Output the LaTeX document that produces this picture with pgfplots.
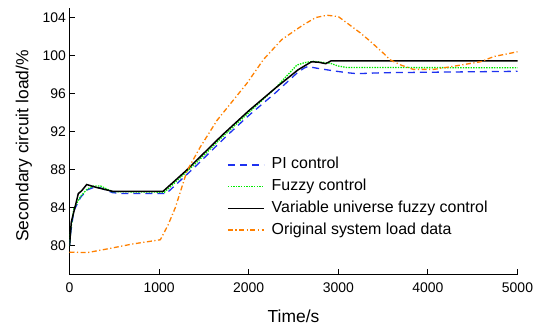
\documentclass[border=0pt]{standalone}
\usepackage{fontspec}
\setmainfont{Liberation Sans}
\usepackage{pgfplots}
\pgfplotsset{compat=1.18}
\definecolor{piblue}{RGB}{30,50,240}
\definecolor{fzgreen}{RGB}{0,235,0}
\definecolor{orig}{RGB}{255,128,0}
\begin{document}
\begin{tikzpicture}
\path[use as bounding box] (-69.5bp,-51.5bp) rectangle (471.5bp,274.5bp);
\begin{axis}[
  at={(0,0)}, anchor=south west,
  scale only axis, width=448bp, height=266.5bp,
  xmin=0, xmax=5000, ymin=77, ymax=105,
  axis x line*=bottom, axis y line*=left,
  axis line style={line width=0.9bp, -},
  xtick={0,1000,...,5000}, ytick={80,84,...,104},
  tick align=inside, major tick length=6bp,
  tick style={line width=0.9bp, black},
  scaled x ticks=false,
  xticklabel style={/pgf/number format/1000 sep={}, yshift=-5bp},
  /pgf/number format/assume math mode=true,
  ticklabel style={font=\fontsize{14}{16}\selectfont},
  xlabel={Time/s}, ylabel={Secondary circuit load/\%},
  label style={font=\fontsize{17.5}{20}\selectfont},
  xlabel style={at={(axis description cs:0.5,-0.1557)}, anchor=center},
  ylabel style={at={(axis description cs:-0.1016,0.482)}, anchor=center},
  legend style={at={(axis description cs:0.3516,0.44)}, anchor=north west,
    draw=none, fill=none, font=\fontsize{16}{18}\selectfont,
    inner sep=0pt, row sep=6.7bp, cells={anchor=west},
    nodes={inner sep=0pt, text height=11.5bp, text depth=3.5bp},
    /tikz/every odd column/.append style={column sep=7bp}},
  legend image code/.code={\draw[#1] (0bp,0bp) -- (36bp,0bp);},
]
\addplot[piblue, line width=1.3bp, dash pattern=on 7bp off 5bp] coordinates {
(0,80.0) (15,81.5) (48,83.7) (123,85.1) (200,85.9) (271,86.15) (346,86.1) (480,85.6) (600,85.5) (1080,85.5)
(1400,88.3) (1758,91.6) (2000,93.7) (2300,96.1) (2537,98.15) (2620,98.7) (2660,98.85) (2763,98.67) (2945,98.4) (3100,98.2) (3208,98.1) (3500,98.2) (5000,98.35)};
\addlegendentry{PI control}
\addplot[fzgreen, line width=1.3bp, dash pattern=on 1.4bp off 1.2bp] coordinates {
(0,80.0) (15,81.8) (48,83.9) (123,85.2) (200,86.0) (271,86.3) (346,86.3) (480,85.7) (1060,85.65)
(1400,88.6) (1700,91.4) (2000,94.0) (2300,96.6) (2537,99.0) (2620,99.25) (2720,99.4) (2910,99.2) (3000,98.9) (3096,98.75) (5000,98.72)};
\addlegendentry{Fuzzy control}
\addplot[black, line width=1.5bp] coordinates {
(0,80.0) (20,82.5) (61,84.05) (98,85.5) (136,85.8) (192,86.45) (300,86.15) (480,85.74) (1045,85.74)
(1300,87.9) (1700,91.6) (2000,94.2) (2300,96.6) (2550,98.5) (2700,99.35) (2780,99.3) (2860,99.15) (2920,99.45) (5000,99.45)};
\addlegendentry{Variable universe fuzzy control}
\addplot[orig, line width=1.3bp, dash pattern=on 5bp off 2.5bp on 1.2bp off 2.5bp] coordinates {
(0,79.35) (200,79.3) (457,79.75) (700,80.2) (1014,80.65) (1100,82.2) (1182,84.05) (1312,87.9) (1460,90.4) (1647,93.2)
(1981,97.1) (2166,99.6) (2371,101.7) (2612,103.25) (2750,104.0) (2873,104.24) (3000,104.1) (3244,102.4) (3357,101.5)
(3502,100.26) (3580,99.55) (3700,99.0) (3838,98.55) (4066,98.55) (4300,98.9) (4587,99.35) (4736,99.9) (5000,100.4)};
\addlegendentry{Original system load data}
\end{axis}
\end{tikzpicture}
\end{document}
